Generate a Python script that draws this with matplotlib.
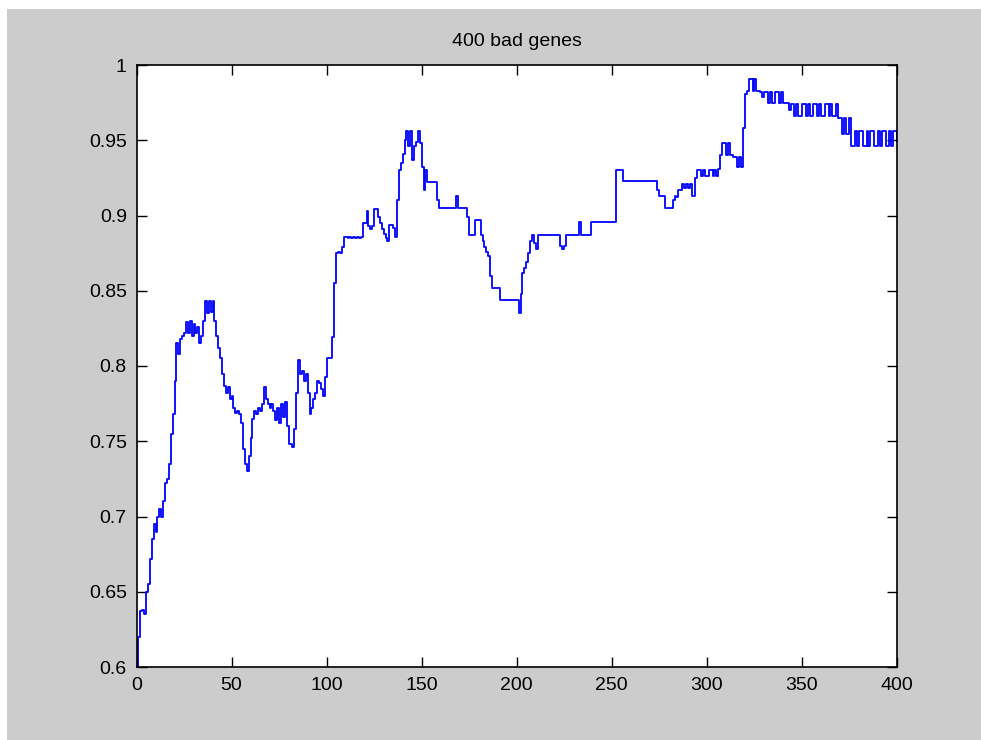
import numpy as np
import matplotlib
matplotlib.use('Agg')
import matplotlib.pyplot as plt
from matplotlib.patches import Rectangle
from matplotlib.ticker import FormatStrFormatter

plt.rcParams['font.family'] = ['Liberation Sans', 'DejaVu Sans']

title = '400 bad genes'
xticks = [0, 50, 100, 150, 200, 250, 300, 350, 400]
yticks = [0.6, 0.65, 0.7, 0.75, 0.8, 0.85, 0.9, 0.95, 1.0]

# one value per step, x = 0..400
vals = [
	0.600, 0.620, 0.637, 0.638, 0.635, 0.650, 0.655, 0.672, 0.685, 0.695,
	0.690, 0.700, 0.705, 0.700, 0.710, 0.722, 0.725, 0.735, 0.755, 0.768,
	0.790, 0.815, 0.808, 0.818, 0.820, 0.822, 0.829, 0.822, 0.830, 0.820,
	0.828, 0.822, 0.826, 0.815, 0.820, 0.830, 0.843, 0.835, 0.843, 0.836,
	0.843, 0.830, 0.820, 0.812, 0.805, 0.795, 0.787, 0.782, 0.786, 0.778,
	0.780, 0.772, 0.769, 0.770, 0.768, 0.762, 0.745, 0.735, 0.730, 0.740,
	0.752, 0.765, 0.770, 0.768, 0.772, 0.770, 0.775, 0.786, 0.778, 0.775,
	0.772, 0.775, 0.770, 0.764, 0.772, 0.762, 0.775, 0.766, 0.776, 0.760,
	0.748, 0.748, 0.746, 0.758, 0.782, 0.804, 0.795, 0.797, 0.790, 0.795,
	0.782, 0.768, 0.772, 0.778, 0.782, 0.790, 0.789, 0.785, 0.780, 0.793,
	0.805, 0.805, 0.805, 0.819, 0.855, 0.875, 0.876, 0.875, 0.879, 0.886,
	0.886, 0.885, 0.886, 0.885, 0.886, 0.885, 0.886, 0.885, 0.886, 0.895,
	0.895, 0.903, 0.893, 0.891, 0.893, 0.904, 0.904, 0.899, 0.895, 0.891,
	0.888, 0.885, 0.883, 0.894, 0.894, 0.892, 0.886, 0.910, 0.930, 0.935,
	0.941, 0.950, 0.956, 0.946, 0.956, 0.937, 0.946, 0.949, 0.956, 0.948,
	0.932, 0.917, 0.930, 0.922, 0.922, 0.922, 0.922, 0.922, 0.910, 0.905,
	0.905, 0.905, 0.905, 0.905, 0.905, 0.905, 0.905, 0.905, 0.913, 0.905,
	0.905, 0.905, 0.905, 0.905, 0.899, 0.887, 0.887, 0.887, 0.897, 0.897,
	0.897, 0.887, 0.883, 0.879, 0.876, 0.873, 0.860, 0.852, 0.852, 0.852,
	0.852, 0.844, 0.844, 0.844, 0.844, 0.844, 0.844, 0.844, 0.844, 0.844,
	0.844, 0.835, 0.848, 0.862, 0.865, 0.869, 0.875, 0.883, 0.887, 0.882,
	0.878, 0.887, 0.887, 0.887, 0.887, 0.887, 0.887, 0.887, 0.887, 0.887,
	0.887, 0.887, 0.887, 0.880, 0.878, 0.880, 0.887, 0.887, 0.887, 0.887,
	0.887, 0.887, 0.887, 0.896, 0.887, 0.887, 0.887, 0.887, 0.887, 0.896,
	0.896, 0.896, 0.896, 0.896, 0.896, 0.896, 0.896, 0.896, 0.896, 0.896,
	0.896, 0.896, 0.930, 0.930, 0.930, 0.930, 0.923, 0.923, 0.923, 0.923,
	0.923, 0.923, 0.923, 0.923, 0.923, 0.923, 0.923, 0.923, 0.923, 0.923,
	0.923, 0.923, 0.923, 0.923, 0.917, 0.913, 0.913, 0.913, 0.905, 0.905,
	0.905, 0.905, 0.910, 0.913, 0.912, 0.917, 0.917, 0.921, 0.918, 0.921,
	# 290
	0.918, 0.921, 0.913, 0.913, 0.925,
	0.930, 0.930, 0.926, 0.930, 0.926, 0.926, 0.930, 0.930, 0.926, 0.930, 0.926,
	0.931, 0.940,
	0.948, 0.948, 0.940, 0.948, 0.940, 0.940,
	0.939, 0.939, 0.932, 0.939, 0.932,
	0.958, 0.981, 0.983,
	0.991, 0.991, 0.983, 0.991, 0.983, 0.983,
	0.982, 0.979,
	# 330
	0.982, 0.982, 0.975, 0.982, 0.975, 0.975, 0.982, 0.982, 0.975, 0.982, 0.975, 0.975,
	0.975, 0.970,
	# 344
	0.974, 0.974, 0.966, 0.974, 0.966, 0.966, 0.974, 0.974, 0.966, 0.974,
	0.966, 0.966, 0.974, 0.974, 0.966, 0.974, 0.966, 0.966, 0.974, 0.974,
	0.966, 0.974, 0.966, 0.966, 0.974,
	# 369
	0.965, 0.965, 0.954, 0.965, 0.954, 0.954, 0.965,
	# 376
	0.946, 0.946, 0.956, 0.946, 0.956, 0.956, 0.946, 0.946, 0.956, 0.946,
	0.956, 0.956, 0.946, 0.946, 0.956, 0.946, 0.956, 0.956, 0.946, 0.946,
	0.956, 0.946, 0.956, 0.956,
	0.949,
]
xs = np.arange(len(vals))

fig = plt.figure(figsize=(9.81, 7.40), dpi=100, facecolor='white')
fig.patches.append(Rectangle((7/981, 0), 1, (740-9)/740, transform=fig.transFigure,
	facecolor='#cccccc', edgecolor='none', zorder=-10))

ax = fig.add_axes([136.5/981, (740-667)/740, (897-136.5)/981, (667-65)/740])
ax.plot(xs, vals, color='#0000ff', lw=1.3, drawstyle='steps-post')
ax.set_xlim(0, 400)
ax.set_ylim(0.6, 1.0)
ax.set_xticks(xticks)
ax.set_yticks(yticks)
ax.yaxis.set_major_formatter(FormatStrFormatter('%g'))
ax.tick_params(direction='in', length=7, width=1, top=True, right=True,
	labelsize=14, pad=7, colors='black')
for s in ax.spines.values():
	s.set_linewidth(1.2)
ax.set_title(title, fontsize=14, pad=14)

fig.savefig('out.png', dpi=100, facecolor=fig.get_facecolor())
